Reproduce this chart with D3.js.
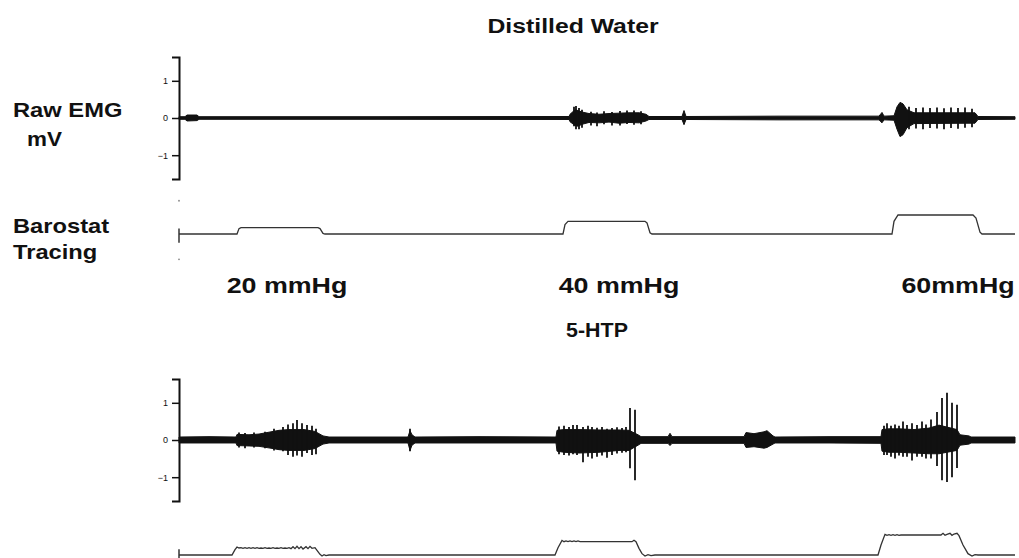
<!DOCTYPE html>
<html><head><meta charset="utf-8">
<script src="https://cdn.jsdelivr.net/npm/d3@7"></script>
<style>html,body{margin:0;padding:0;background:#fff;}svg{display:block;}</style>
</head><body>
<script>
// ---------- DATA ----------
// time axis: seconds from start of recording
const timeDomain = [0, 836];
const emgTicks = [1, 0, -1];
const pressureLabels = ["20 mmHg", "40 mmHg", "60mmHg"];
const pressureLabelTimes = [108, 440, 779];

// Distilled water: EMG envelope [t, upper mV, lower mV]
const emgEnvWater = [
  [0,0.035,-0.035],[6,0.035,-0.035],[8,0.08,-0.08],[18,0.08,-0.07],[20,0.035,-0.035],
  [200,0.035,-0.035],[390,0.04,-0.04],[391,0.1,-0.1],[396,0.22,-0.2],[399,0.2,-0.22],
  [403,0.16,-0.17],[410,0.12,-0.12],[420,0.1,-0.13],[430,0.12,-0.11],[440,0.13,-0.14],
  [450,0.14,-0.12],[460,0.14,-0.13],[467,0.1,-0.08],[470,0.04,-0.04],
  [503,0.04,-0.04],[505,0.2,-0.18],[507,0.04,-0.04],[600,0.05,-0.05],[700,0.05,-0.05],
  [703,0.15,-0.13],[705,0.05,-0.05],[715,0.06,-0.06],[718,0.3,-0.3],[721,0.42,-0.5],
  [724,0.38,-0.45],[728,0.22,-0.26],[735,0.14,-0.15],[790,0.14,-0.14],[796,0.14,-0.14],
  [799,0.04,-0.04],[836,0.035,-0.035]
];
// Distilled water: discrete spikes [t, upper mV, lower mV]
const emgSpikesWater = [
  [395,0.3,-0.22],[397,0.32,-0.3],[400,0.27,-0.3],[403,0.22,-0.26],[412,0.17,-0.2],
  [418,0.15,-0.22],[425,0.18,-0.17],[433,0.16,-0.2],[441,0.19,-0.2],[448,0.2,-0.16],
  [455,0.2,-0.18],[462,0.18,-0.17],
  [730,0.3,-0.3],[737,0.27,-0.28],[744,0.28,-0.3],[751,0.27,-0.27],[758,0.28,-0.28],
  [765,0.26,-0.3],[772,0.28,-0.27],[779,0.27,-0.29],[786,0.28,-0.26],[793,0.25,-0.25]
];
// 5-HTP: EMG envelope
const emgEnvHTP = [
  [0,0.08,-0.08],[30,0.09,-0.08],[57,0.08,-0.08],[58,0.15,-0.15],[70,0.14,-0.16],
  [80,0.16,-0.17],[94,0.23,-0.23],[100,0.26,-0.26],[110,0.28,-0.28],[125,0.28,-0.28],
  [136,0.23,-0.23],[144,0.11,-0.11],[150,0.08,-0.08],[229,0.08,-0.08],[231,0.25,-0.28],
  [233,0.14,-0.14],[236,0.08,-0.08],[300,0.09,-0.08],[377,0.08,-0.08],[378,0.26,-0.3],
  [385,0.28,-0.33],[400,0.28,-0.35],[420,0.27,-0.33],[440,0.27,-0.28],[450,0.26,-0.28],
  [459,0.14,-0.14],[462,0.09,-0.09],[489,0.09,-0.09],[491,0.18,-0.15],[493,0.09,-0.09],
  [565,0.09,-0.09],[567,0.2,-0.2],[575,0.17,-0.18],[585,0.22,-0.22],[588,0.25,-0.2],
  [594,0.11,-0.11],[596,0.08,-0.08],[650,0.09,-0.08],[702,0.09,-0.09],[703,0.28,-0.3],
  [710,0.3,-0.33],[720,0.3,-0.33],[735,0.28,-0.35],[750,0.32,-0.37],[760,0.4,-0.37],
  [778,0.28,-0.28],[781,0.14,-0.14],[790,0.11,-0.11],[792,0.08,-0.08],[836,0.08,-0.08]
];
// 5-HTP: discrete spikes
const emgSpikesHTP = [
  [60,0.2,-0.2],[66,0.19,-0.22],[75,0.2,-0.2],[86,0.22,-0.22],[95,0.3,-0.28],
  [104,0.35,-0.3],[109,0.42,-0.4],[114,0.45,-0.45],[118,0.54,-0.42],[123,0.45,-0.45],
  [128,0.4,-0.35],[133,0.38,-0.4],[137,0.3,-0.38],[231,0.3,-0.3],
  [380,0.36,-0.38],[385,0.38,-0.4],[390,0.35,-0.42],[394,0.4,-0.38],
  [398,0.4,-0.4],[404,0.35,-0.6],[409,0.38,-0.45],[413,0.35,-0.5],[418,0.33,-0.45],
  [423,0.35,-0.42],[428,0.3,-0.48],[433,0.32,-0.4],[438,0.34,-0.36],[443,0.32,-0.34],
  [447,0.35,-0.33],[451,0.86,-0.76],[456,0.81,-1.08],
  [705,0.38,-0.4],[708,0.45,-0.4],[712,0.38,-0.45],[716,0.42,-0.5],[720,0.38,-0.42],
  [724,0.5,-0.45],[728,0.4,-0.45],[733,0.45,-0.55],[738,0.4,-0.45],[743,0.5,-0.45],
  [747,0.42,-0.5],[752,0.55,-0.5],[758,0.75,-0.7],[763,1.13,-1.08],[768,1.27,-1.13],
  [773,1.0,-1.0],[778,0.95,-0.75]
];
// Barostat pressure tracings [t, mmHg]
const baroWater = [
  [0,0],[58,0],[60,17],[62,20],[139,20],[141,17],[144,2],[146,0],
  [384,0],[386,30],[389,40],[466,40],[468,35],[471,4],[473,0],
  [713,0],[715,40],[719,60],[794,60],[797,50],[801,6],[803,0],[836,0]
];
const baroHTP = [
  [0,0],[53,0],[56,16],[58,24],[60,21],[62,22],[64,20],[66,22],[68,20],[70,22],[72,20],
  [74,22],[76,20],[78,22],[80,20],[82,21],[84,20],[86,22],[88,20],[90,21],[92,20],
  [94,22],[96,20],[98,21],[100,20],[102,22],[104,20],[106,21],[108,20],[110,22],
  [112,19],[114,25],[116,19],[118,26],[120,19],[122,25],[124,18],[127,25],[129,19],
  [131,26],[133,20],[136,22],[138,14],[141,2],[143,-3],[145,1],[147,-2],[150,0],
  [376,0],[379,22],[383,44],[385,40],[387,42],[389,40],[391,42],[393,40],[395,42],
  [397,40],[399,42],[401,40],[453,40],[455,44],[457,40],[460,20],[463,4],[466,-3],
  [469,1],[472,-2],[476,0],
  [699,0],[702,30],[706,62],[708,59],[710,61],[712,59],[714,61],[716,59],[718,61],
  [720,59],[722,60],[740,60],[762,60],[764,65],[766,59],[768,62],[771,65],[773,59],
  [775,63],[778,65],[780,58],[784,30],[789,4],[793,-3],[796,1],[799,0],[836,0]
];

// ---------- LAYOUT ----------
const W = 1019, H = 558;
const svg = d3.select("body").append("svg").attr("width", W).attr("height", H);
const x = d3.scaleLinear().domain(timeDomain).range([179, 1015]);

function stretchedText(txt, px, py, size, sx, anchor) {
  const g = svg.append("g").attr("transform", `translate(${px},${py}) scale(${sx},1)`);
  g.append("text").text(txt)
    .attr("font-family", "Liberation Sans, Arial, sans-serif")
    .attr("font-weight", "bold").attr("font-size", size)
    .attr("text-anchor", anchor || "start").attr("fill", "#111");
}

function emgPanel(yRange, env, spikes) {
  const y = d3.scaleLinear().domain([-1.64, 1.64]).range(yRange);
  const ax = d3.axisLeft(y).tickValues(emgTicks).tickSize(7).tickPadding(4)
    .tickFormat(d3.format("d"));
  const g = svg.append("g").attr("transform", `translate(${x(0)},0)`).call(ax);
  g.select(".domain").attr("stroke", "#111").attr("stroke-width", 2);
  g.selectAll(".tick line").attr("stroke", "#111").attr("stroke-width", 1.5);
  g.selectAll(".tick text").attr("font-family", "Liberation Sans, Arial, sans-serif")
    .attr("font-size", 9).attr("fill", "#111");
  svg.append("path").datum(env)
    .attr("d", d3.area().x(d => x(d[0])).y0(d => y(d[2])).y1(d => y(d[1])))
    .attr("fill", "#111").attr("stroke", "#111").attr("stroke-width", 1);
  svg.append("path").datum(timeDomain)
    .attr("d", d3.line().x(d => x(d)).y(() => y(0)))
    .attr("stroke", "#111").attr("stroke-width", 2);
  svg.selectAll(null).data(spikes).enter().append("line")
    .attr("x1", d => x(d[0])).attr("x2", d => x(d[0]))
    .attr("y1", d => y(d[1])).attr("y2", d => y(d[2]))
    .attr("stroke", "#111").attr("stroke-width", 1.8);
}

function baroPanel(yRange, data, dots) {
  const y = d3.scaleLinear().domain([0, 60]).range(yRange);
  svg.append("line").attr("x1", x(0)).attr("x2", x(0))
    .attr("y1", y(17)).attr("y2", y(-28)).attr("stroke", "#333").attr("stroke-width", 1.5);
  if (dots) {
    svg.selectAll(null).data([105, -80]).enter().append("circle")
      .attr("cx", x(0)).attr("cy", d => y(d)).attr("r", 0.9).attr("fill", "#888");
  }
  svg.append("path").datum(data)
    .attr("d", d3.line().x(d => x(d[0])).y(d => y(d[1])))
    .attr("fill", "none").attr("stroke", "#333").attr("stroke-width", 1.3);
}

emgPanel([179, 57], emgEnvWater, emgSpikesWater);
baroPanel([234, 215], baroWater, true);
emgPanel([501, 379], emgEnvHTP, emgSpikesHTP);
baroPanel([555, 535], baroHTP, false);

// titles and labels
stretchedText("Distilled Water", 573, 33, 21, 1.18, "middle");
stretchedText("5-HTP", 597, 337, 20, 1.07, "middle");
stretchedText("Raw EMG", 13, 117, 21, 1.13);
stretchedText("mV", 27, 146, 21, 1.07);
stretchedText("Barostat", 13, 233, 21, 1.13);
stretchedText("Tracing", 13, 259, 21, 1.13);
pressureLabels.forEach((t, i) => stretchedText(t, x(pressureLabelTimes[i]), 293, 22, 1.22, "middle"));
</script>
</body></html>
